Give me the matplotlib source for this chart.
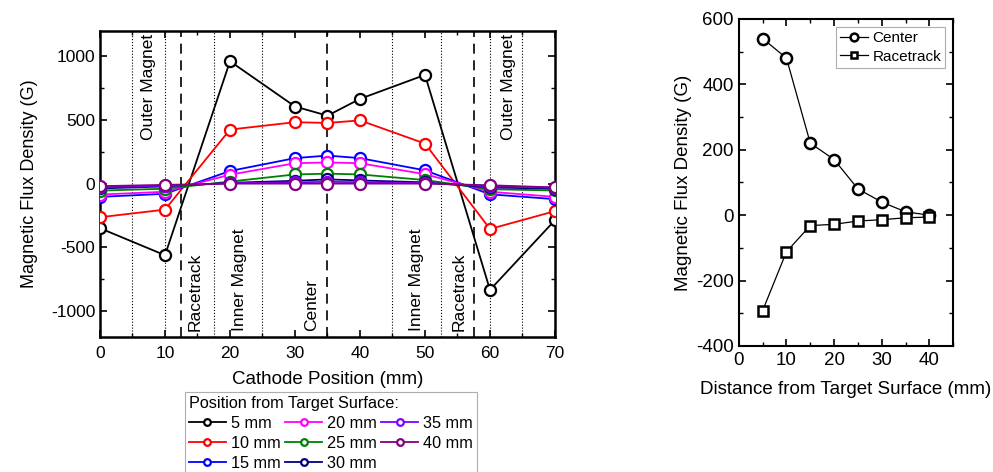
import matplotlib
matplotlib.use('Agg')
import matplotlib.pyplot as plt
from matplotlib.ticker import MultipleLocator

plt.rcParams['font.family'] = ['Liberation Sans', 'DejaVu Sans']
plt.rcParams['axes.unicode_minus'] = False

# cathode scan, one series per distance from the target surface
positions = [0, 10, 20, 30, 35, 40, 50, 60, 70]
labels = ['5 mm', '10 mm', '15 mm', '20 mm', '25 mm', '30 mm', '35 mm', '40 mm']
colors = ['black', 'red', 'blue', 'magenta', 'green', 'navy', '#8000ff', 'purple']
b5 = [-350, -562, 960, 605, 533, 665, 853, -834, -287]
b10 = [-264, -204, 424, 482, 476, 496, 314, -356, -216]
b15 = [-104, -80, 99, 200, 220, 200, 104, -84, -122]
b20 = [-86, -64, 70, 160, 166, 160, 74, -64, -104]
b25 = [-55, -40, 16, 72, 78, 72, 28, -44, -54]
b30 = [-38, -22, 6, 22, 33, 25, 10, -30, -40]
b35 = [-28, -16, 3, 10, 14, 11, 5, -20, -32]
b40 = [-20, -10, 0, 0, 0, 0, 0, -13, -30]
series = [b5, b10, b15, b20, b25, b30, b35, b40]

# magnet layout markers on the cathode
dotted_x = [5, 10, 17.5, 25, 45, 52.5, 60, 65]
dashed_x = [12.5, 35, 57.5]
region_text = [('Outer Magnet', 7.4, 'top'), ('Racetrack', 14.7, 'bottom'),
               ('Inner Magnet', 21.4, 'bottom'), ('Center', 32.6, 'bottom'),
               ('Inner Magnet', 48.7, 'bottom'), ('Racetrack', 55.2, 'bottom'),
               ('Outer Magnet', 62.8, 'top')]

# field vs distance at center and racetrack
distance = [5, 10, 15, 20, 25, 30, 35, 40]
center = [540, 480, 220, 170, 80, 40, 10, 0]
racetrack = [-292, -112, -32, -28, -18, -14, -8, -6]

fig = plt.figure(figsize=(9.93, 4.72), dpi=100)
ax = fig.add_axes([0.1007, 0.287, 0.4582, 0.648])
ax2 = fig.add_axes([0.744, 0.267, 0.216, 0.693])

for x in dotted_x:
    ax.axvline(x, color='black', ls=':', lw=0.8, zorder=1)
for x in dashed_x:
    ax.axvline(x, color='black', ls=(0, (6, 4)), lw=1.2, zorder=1)
for txt, x, va in region_text:
    y = 1175 if va == 'top' else -1160
    ax.text(x, y, txt, rotation=90, ha='center', va=va, fontsize=12.5)

for vals, c, lab in zip(series, colors, labels):
    ax.plot(positions, vals, color=c, lw=1.3, marker='o', ms=8, mfc='white',
            mec=c, mew=1.6, label=lab, zorder=3)

ax.set_xlim(0, 70)
ax.set_ylim(-1200, 1200)
ax.xaxis.set_major_locator(MultipleLocator(10))
ax.xaxis.set_minor_locator(MultipleLocator(5))
ax.yaxis.set_major_locator(MultipleLocator(500))
ax.yaxis.set_minor_locator(MultipleLocator(250))
ax.tick_params(which='both', direction='in', top=True, right=True, labelsize=12.5)
ax.tick_params(which='major', length=5, width=1.2)
ax.tick_params(which='minor', length=3, width=1)
ax.tick_params(axis='x', pad=7)
for s in ax.spines.values():
    s.set_linewidth(1.8)
ax.set_xlabel('Cathode Position (mm)', fontsize=13.5, labelpad=7)
ax.set_ylabel('Magnetic Flux Density (G)', fontsize=13, labelpad=9)

leg = fig.legend(*ax.get_legend_handles_labels(), loc='upper left',
                 bbox_to_anchor=(0.186, 0.169), ncol=3, fontsize=11.7,
                 title='Position from Target Surface:', title_fontsize=11.7,
                 alignment='left', frameon=True, fancybox=False, edgecolor='#999999',
                 handlelength=2.3, handletextpad=0.3, columnspacing=0.25,
                 labelspacing=0.3, borderpad=0.25, borderaxespad=0, markerscale=0.6)
leg.get_frame().set_linewidth(0.8)

ax2.plot(distance, center, color='black', lw=0.9, marker='o', ms=8, mfc='white',
         mec='black', mew=1.8, label='Center')
ax2.plot(distance, racetrack, color='black', lw=0.9, marker='s', ms=7, mfc='white',
         mec='black', mew=1.8, label='Racetrack')
ax2.set_xlim(0, 45)
ax2.set_ylim(-400, 600)
ax2.xaxis.set_major_locator(MultipleLocator(10))
ax2.xaxis.set_minor_locator(MultipleLocator(5))
ax2.yaxis.set_major_locator(MultipleLocator(200))
ax2.yaxis.set_minor_locator(MultipleLocator(100))
ax2.tick_params(which='both', direction='in', top=True, right=True, labelsize=13.5)
ax2.tick_params(which='major', length=5, width=1.2)
ax2.tick_params(which='minor', length=3, width=1)
ax2.tick_params(axis='x', pad=4)
for s in ax2.spines.values():
    s.set_linewidth(1.5)
ax2.set_xlabel('Distance from Target Surface (mm)', fontsize=13.5, labelpad=9)
ax2.set_ylabel('Magnetic Flux Density (G)', fontsize=13.5, labelpad=3)
leg2 = ax2.legend(loc='upper right', fontsize=11, fancybox=False, edgecolor='#999999',
                  handlelength=1.8, handletextpad=0.3, borderpad=0.25,
                  labelspacing=0.3, borderaxespad=0.55, markerscale=0.7)
leg2.get_frame().set_linewidth(0.8)

fig.savefig('out.png', dpi=100)
